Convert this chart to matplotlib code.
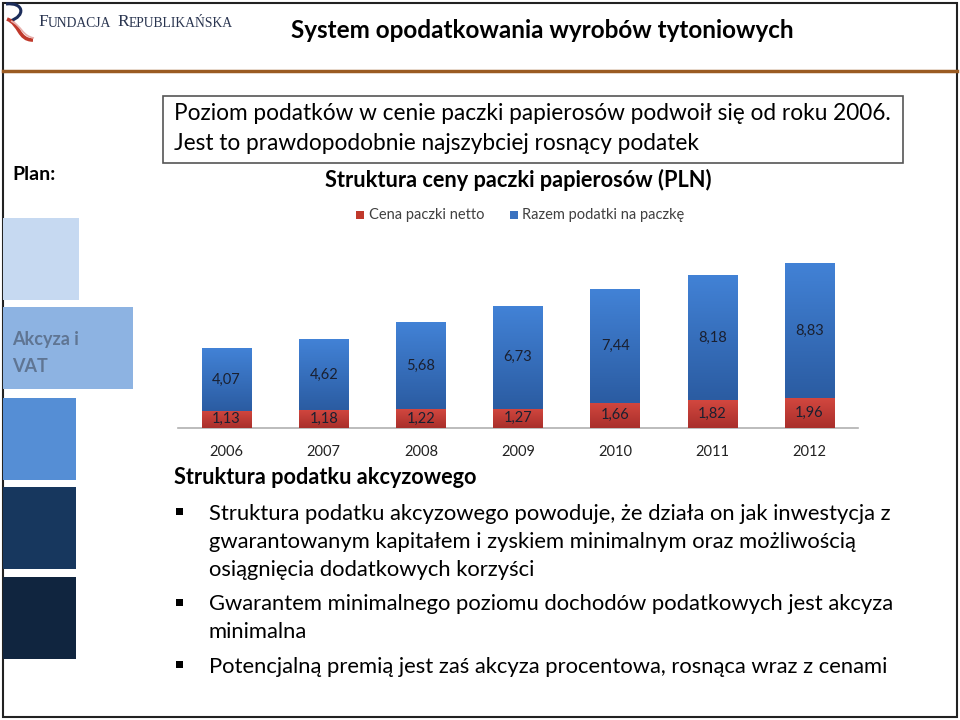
import numpy as np
import matplotlib
matplotlib.use("Agg")
import matplotlib.pyplot as plt
from matplotlib.patches import Rectangle, PathPatch
from matplotlib.path import Path

plt.rcParams['font.family'] = ['Lato', 'DejaVu Sans']

# data
years = ['2006', '2007', '2008', '2009', '2010', '2011', '2012']
netto = [1.13, 1.18, 1.22, 1.27, 1.66, 1.82, 1.96]
podatki = [4.07, 4.62, 5.68, 6.73, 7.44, 8.18, 8.83]
labels = ['Cena paczki netto', 'Razem podatki na paczkę']
bullets = [
    ['Struktura podatku akcyzowego powoduje, że działa on jak inwestycja z',
     'gwarantowanym kapitałem i zyskiem minimalnym oraz możliwością',
     'osiągnięcia dodatkowych korzyści'],
    ['Gwarantem minimalnego poziomu dochodów podatkowych jest akcyza',
     'minimalna'],
    ['Potencjalną premią jest zaś akcyza procentowa, rosnąca wraz z cenami'],
]

fig = plt.figure(figsize=(9.6, 7.2), dpi=100)
bg = fig.add_axes([0, 0, 1, 1])
bg.set_xlim(0, 960)
bg.set_ylim(720, 0)
bg.axis('off')

# slide frame + header line
bg.add_patch(Rectangle((3, 3), 954, 714, fill=False, ec='#222222', lw=1.5))
bg.plot([3, 957], [71, 71], color='#9a5b22', lw=2.5)

# logo
bg.add_patch(PathPatch(Path([(6, 4), (24, 2), (26, 16), (10, 21)],
                            [Path.MOVETO, Path.CURVE4, Path.CURVE4, Path.CURVE4]),
                       fill=False, ec='#1c2d5a', lw=2.2))
bg.add_patch(PathPatch(Path([(7, 19), (20, 24), (18, 40), (33, 40)],
                            [Path.MOVETO, Path.CURVE4, Path.CURVE4, Path.CURVE4]),
                       fill=False, ec='#c0392b', lw=2.6))
bg.add_patch(PathPatch(Path([(11, 21), (22, 26), (22, 36), (34, 38)],
                            [Path.MOVETO, Path.CURVE4, Path.CURVE4, Path.CURVE4]),
                       fill=False, ec='#e8b0ad', lw=1.2))

# small caps logo text
sc_color = '#2a3550'
prev = None
for word in ['FUNDACJA', ' ', 'REPUBLIKAŃSKA']:
    if word == ' ':
        prev = bg.annotate('  ', xy=(1, 0), xycoords=prev, fontsize=9, va='bottom', ha='left',
                           family='Liberation Serif')
        continue
    first, rest = word[0], word[1:]
    if prev is None:
        t = bg.text(38, 26, first, fontsize=12.5, family='Liberation Serif', color=sc_color,
                    va='baseline', ha='left')
    else:
        t = bg.annotate(first, xy=(1, 0), xycoords=prev, fontsize=12.5, family='Liberation Serif',
                        color=sc_color, va='bottom', ha='left')
    prev = bg.annotate(rest, xy=(1, 0), xycoords=t, fontsize=9.8, family='Liberation Serif',
                       color=sc_color, va='bottom', ha='left')

bg.text(542, 31, 'System opodatkowania wyrobów tytoniowych', fontsize=17.5, fontweight='bold',
        ha='center', va='center', color='black')

# left side menu
bg.text(12, 175, 'Plan:', fontsize=14, fontweight='bold', ha='left', va='center', color='black')
blocks = [(218, 76, '#c6d9f1'), (307, 130, '#8db3e2'), (398, 73, '#558ed5'),
          (487, 73, '#17375e'), (577, 73, '#10253f')]
for y, w, c in blocks:
    bg.add_patch(Rectangle((3, y), w, 82, fc=c, ec='none'))
bg.text(12, 340, 'Akcyza i', fontsize=13, fontweight='bold', color='#5f7593', ha='left', va='center')
bg.text(12, 366, 'VAT', fontsize=13, fontweight='bold', color='#5f7593', ha='left', va='center')

# top text box
bg.add_patch(Rectangle((163, 96), 740, 67, fill=False, ec='#555555', lw=1.2))
bg.text(174, 114, 'Poziom podatków w cenie paczki papierosów podwoił się od roku 2006.',
        fontsize=16.3, ha='left', va='center', color='black')
bg.text(174, 144, 'Jest to prawdopodobnie najszybciej rosnący podatek',
        fontsize=16.3, ha='left', va='center', color='black')

# chart title + legend
bg.text(518, 180, 'Struktura ceny paczki papierosów (PLN)', fontsize=15.7, fontweight='bold',
        ha='center', va='center', color='black')
bg.add_patch(Rectangle((356, 211), 8, 8, fc='#c0392b', ec='none'))
bg.text(369, 215, labels[0], fontsize=10.5, ha='left', va='center', color='#404040')
bg.add_patch(Rectangle((510, 211), 8, 8, fc='#3a72c0', ec='none'))
bg.text(522, 215, labels[1], fontsize=10.5, ha='left', va='center', color='#404040')

# bar chart
ax = fig.add_axes([178 / 960, 1 - 428 / 720, 680 / 960, 183.6 / 720])
ax.set_xlim(-0.5, len(years) - 0.5)
ax.set_ylim(0, 12)
x = np.arange(len(years))
b1 = ax.bar(x, netto, width=0.51, color='#c0392b', zorder=2)
b2 = ax.bar(x, podatki, width=0.51, bottom=netto, color='#3a72c0', zorder=2)

def gradient(bars, top, bottom):
    grad = np.linspace(0, 1, 64).reshape(-1, 1)
    top = np.array(matplotlib.colors.to_rgb(top))
    bottom = np.array(matplotlib.colors.to_rgb(bottom))
    img = bottom + (top - bottom) * grad[..., None]
    for b in bars:
        x0, y0 = b.get_x(), b.get_y()
        im = ax.imshow(img, extent=(x0, x0 + b.get_width(), y0, y0 + b.get_height()),
                       origin='lower', aspect='auto', zorder=3)
        im.set_clip_path(b)

gradient(b1, '#d2473f', '#a92f2b')
gradient(b2, '#4282d6', '#2b5ca2')

for i in range(len(years)):
    ax.text(x[i], netto[i] / 2, f'{netto[i]:.2f}'.replace('.', ','), ha='center', va='center',
            fontsize=10.5, color='#1a2030', zorder=4)
    ax.text(x[i], netto[i] + podatki[i] / 2, f'{podatki[i]:.2f}'.replace('.', ','), ha='center',
            va='center', fontsize=10.5, color='#1a2030', zorder=4)

ax.set_xticks(x)
ax.set_xticklabels(years, fontsize=10.5, color='#222222')
ax.tick_params(axis='x', length=0, pad=12)
ax.set_yticks([])
for s in ['top', 'right', 'left']:
    ax.spines[s].set_visible(False)
ax.spines['bottom'].set_color('#b0b0b0')
ax.spines['bottom'].set_linewidth(1.2)
ax.patch.set_alpha(0)

# lower text
bg.text(174, 478, 'Struktura podatku akcyzowego', fontsize=15.6, fontweight='bold',
        ha='left', va='center', color='black')
y = 514
for lines in bullets:
    bg.add_patch(Rectangle((176, y - 6), 7, 7, fc='black', ec='none'))
    for ln in lines:
        bg.text(209, y, ln, fontsize=15.8, ha='left', va='center', color='black')
        y += 28
    y += 6.5

fig.savefig('out.png', dpi=100)
